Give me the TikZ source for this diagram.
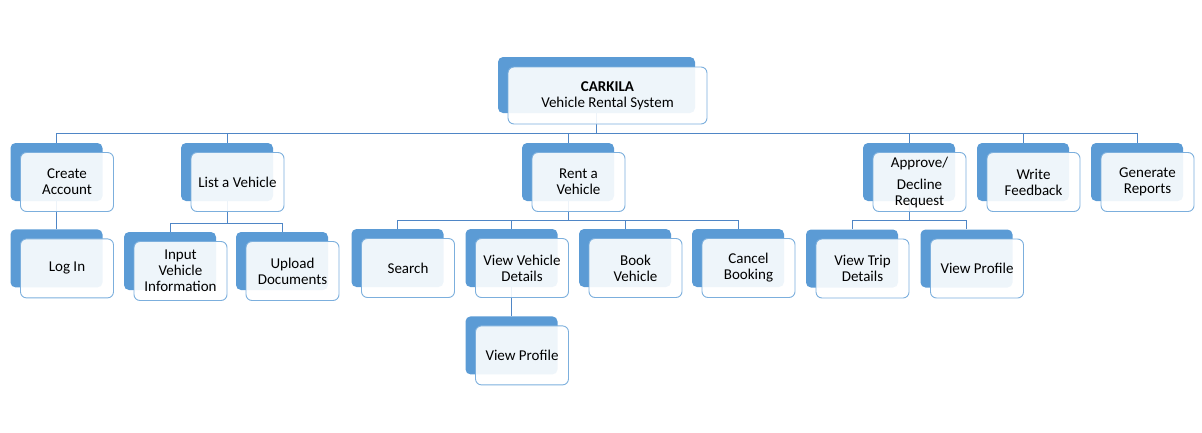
\documentclass[tikz,border=0pt]{standalone}
\usepackage{fontspec}
\setmainfont{Carlito}
\usepackage{xcolor}
\usepackage{tikz}
\usetikzlibrary{positioning}
\definecolor{cardblue}{HTML}{5B9BD5}
\definecolor{edgeblue}{HTML}{4F86C6}
\tikzstyle{back} = [rectangle, rounded corners=5pt, minimum width=92pt, minimum height=58pt, inner sep=0pt, fill=cardblue]
\tikzstyle{front} = [rectangle, rounded corners=6pt, minimum width=93pt, minimum height=59pt, inner sep=0pt, text centered, align=center, draw=cardblue!80!white, line width=0.9pt, fill=white, fill opacity=0.9, text opacity=1, font=\fontsize{15}{16}\selectfont]
\tikzstyle{branch} = [draw=edgeblue, line width=1pt]

\begin{document}
\begin{tikzpicture}[x=1pt, y=-1pt]
		\useasboundingbox (0,0) rectangle (1202,432);
		% back cards
		\node (Carkila)[back, minimum width=197pt, minimum height=56pt] at (596.5,85) {};
		\node (Create Account)[back] at (56.5,172) {};
		\node (List Vehicle)[back] at (227,172) {};
		\node (Rent Vehicle)[back] at (568,172) {};
		\node (Approve Request)[back] at (909,172) {};
		\node (Write Feedback)[back] at (1023,172) {};
		\node (Generate Reports)[back] at (1137,172) {};
		\node (Log In)[back, below = 28pt of Create Account] {};
		\node (Input Info)[back] at (170,261) {};
		\node (Upload Documents)[back] at (282,261) {};
		\node (Search)[back] at (397.5,258) {};
		\node (Vehicle Details)[back] at (511.5,258) {};
		\node (Book Vehicle)[back] at (625,258) {};
		\node (Cancel Booking)[back] at (738,258) {};
		\node (Owner Profile)[back, below = 29pt of Vehicle Details] {};
		\node (Trip Details)[back] at (852,258.5) {};
		\node (Renter Profile)[back] at (966.5,258.5) {};
		% branches
		\draw [branch] (Carkila.south) -- ++(0,20.5) -| (Create Account.north);
		\draw [branch] (Carkila.south) -- ++(0,20.5) -| (List Vehicle.north);
		\draw [branch] (Carkila.south) -- ++(0,20.5) -| (Rent Vehicle.north);
		\draw [branch] (Carkila.south) -- ++(0,20.5) -| (Approve Request.north);
		\draw [branch] (Carkila.south) -- ++(0,20.5) -| (Write Feedback.north);
		\draw [branch] (Carkila.south) -- ++(0,20.5) -| (Generate Reports.north);
		\draw [branch] (Create Account.south) -- (Log In.north);
		\draw [branch] (List Vehicle.south) -- ++(0,22) -| (Input Info.north);
		\draw [branch] (List Vehicle.south) -- ++(0,22) -| (Upload Documents.north);
		\draw [branch] (Rent Vehicle.south) -- ++(0,19) -| (Search.north);
		\draw [branch] (Rent Vehicle.south) -- ++(0,19) -| (Vehicle Details.north);
		\draw [branch] (Rent Vehicle.south) -- ++(0,19) -| (Book Vehicle.north);
		\draw [branch] (Rent Vehicle.south) -- ++(0,19) -| (Cancel Booking.north);
		\draw [branch] (Vehicle Details.south) -- (Owner Profile.north);
		\draw [branch] (Approve Request.south) -- ++(0,19) -| (Trip Details.north);
		\draw [branch] (Approve Request.south) -- ++(0,19) -| (Renter Profile.north);
		% front cards
		\node (Carkila Text)[front, minimum width=199pt, minimum height=57pt] at ([shift={(11,10.5)}]Carkila.center) {\textbf{CARKILA}\\Vehicle Rental System};
		\node (Create Account Text)[front] at ([shift={(10.5,10)}]Create Account.center) {Create\\Account};
		\node (List Vehicle Text)[front] at ([shift={(10.5,10)}]List Vehicle.center) {List a Vehicle};
		\node (Rent Vehicle Text)[front] at ([shift={(10.5,10)}]Rent Vehicle.center) {Rent a\\Vehicle};
		\node (Approve Request Text)[front] at ([shift={(10.5,10)}]Approve Request.center) {Approve/\\[6pt]Decline\\Request};
		\node (Write Feedback Text)[front] at ([shift={(10.5,10)}]Write Feedback.center) {Write\\Feedback};
		\node (Generate Reports Text)[front] at ([shift={(10.5,10)}]Generate Reports.center) {Generate\\Reports};
		\node (Log In Text)[front] at ([shift={(10.5,10)}]Log In.center) {Log In};
		\node (Input Info Text)[front] at ([shift={(10.5,10)}]Input Info.center) {Input\\Vehicle\\Information};
		\node (Upload Documents Text)[front] at ([shift={(10.5,10)}]Upload Documents.center) {Upload\\Documents};
		\node (Search Text)[front] at ([shift={(10.5,10)}]Search.center) {Search};
		\node (Vehicle Details Text)[front] at ([shift={(10.5,10)}]Vehicle Details.center) {View Vehicle\\Details};
		\node (Book Vehicle Text)[front] at ([shift={(10.5,10)}]Book Vehicle.center) {Book\\Vehicle};
		\node (Cancel Booking Text)[front] at ([shift={(10.5,10)}]Cancel Booking.center) {Cancel\\Booking};
		\node (Owner Profile Text)[front] at ([shift={(10.5,10)}]Owner Profile.center) {View Profile};
		\node (Trip Details Text)[front] at ([shift={(10.5,10)}]Trip Details.center) {View Trip\\Details};
		\node (Renter Profile Text)[front] at ([shift={(10.5,10)}]Renter Profile.center) {View Profile};
	\end{tikzpicture}
\end{document}
